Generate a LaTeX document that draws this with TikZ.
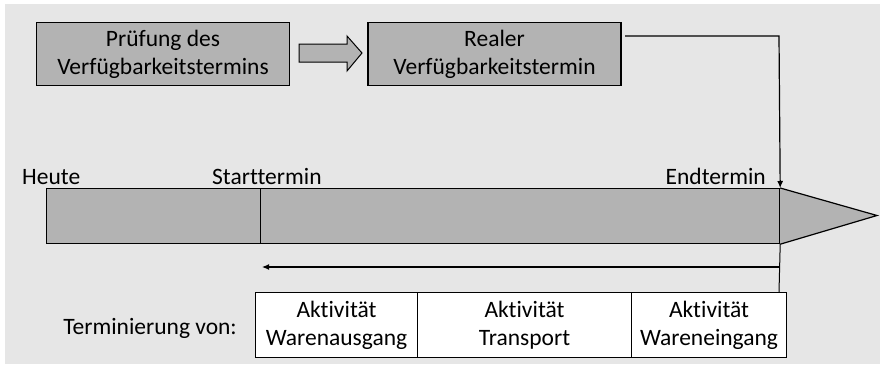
\documentclass[tikz,border=0pt]{standalone}
\usepackage{fontspec}
\setmainfont[Ligatures=NoCommon]{Carlito}
\usetikzlibrary{arrows.meta}
\definecolor{bg}{HTML}{E6E6E6}
\definecolor{boxgray}{HTML}{B3B3B3}
\begin{document}
\begin{tikzpicture}[x=1pt,y=-1pt,
  gbox/.style={draw=black,line width=1.2pt,fill=boxgray,minimum width=253pt,minimum height=63pt,align=center,inner sep=0pt,font=\fontsize{23.5}{28}\selectfont},
  wbox/.style={draw=black,line width=1pt,fill=white,minimum height=65pt,align=center,inner sep=0pt,font=\fontsize{23.5}{28}\selectfont},
  lbl/.style={inner sep=0pt,font=\fontsize{23.5}{28}\selectfont},
  conn/.style={draw=black,line width=1.2pt},
  tip/.style={-{Latex[length=7pt,width=6pt]}}
]
\useasboundingbox (0,0) rectangle (880,364);
\fill[white] (0,0) rectangle (880,364);
\fill[bg] (5,4) rectangle (880,364);
% top boxes
\node[gbox] (pruef) at (163,54) {Prüfung des\\Verfügbarkeitstermins};
\node[gbox] (real) at (494.5,54) {Realer\\Verfügbarkeitstermin};
% block arrow
\draw[line width=1pt,fill=boxgray] (299,44) -- (347,44) -- (347,36) -- (362,53) -- (347,71) -- (347,62) -- (299,62) -- cycle;
% timeline
\node[draw=black,line width=1.2pt,fill=boxgray,minimum width=733pt,minimum height=55pt,inner sep=0pt,anchor=north west] (bar) at (46,188) {};
\draw[line width=1.2pt,fill=boxgray] (bar.north east) -- (877,215.5) -- (bar.south east);
\draw[line width=1pt] (260,188) -- (260,243);
% labels
\node[lbl,anchor=base west] (heute) at (22,184) {Heute};
\node[lbl,anchor=base west] (start) at (212,184) {Starttermin};
\node[lbl,anchor=base east] (endt) at (766,184) {Endtermin};
% connector from real
\coordinate (c0) at (625,36);
\coordinate (c1) at (779,36);
\draw[conn,tip] (c0) -- (c1) -- (bar.north east);
% bottom boxes
\node[wbox,minimum width=162pt,anchor=north west] (wa) at (255,292) {Aktivität\\Warenausgang};
\node[wbox,minimum width=214pt,anchor=north west] (tr) at (417,292) {Aktivität\\Transport};
\node[wbox,minimum width=155pt,anchor=north west] (we) at (631,292) {Aktivität\\Wareneingang};
\node[lbl,anchor=base east] (term) at (237,334) {Terminierung von:};
% vertical and back arrow
\coordinate (c2) at (779,292);
\coordinate (c3) at (779,267);
\coordinate (c4) at (262,267);
\draw[line width=1pt] (bar.south east) -- (c2);
\draw[conn,tip] (c3) -- (c4);
\end{tikzpicture}
\end{document}
